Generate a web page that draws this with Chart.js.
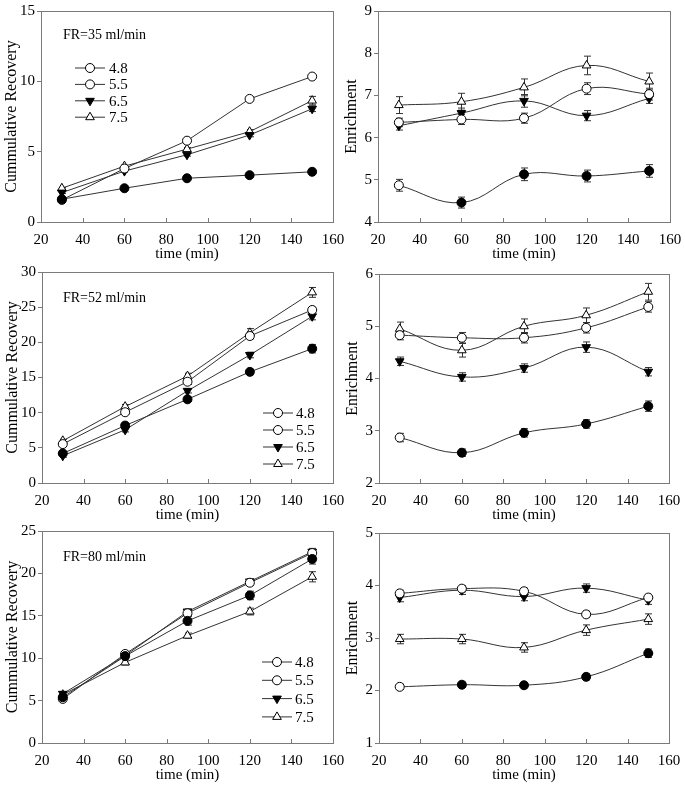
<!DOCTYPE html>
<html><head><meta charset="utf-8">
<script src="https://cdn.jsdelivr.net/npm/chart.js@4.4.1/dist/chart.umd.min.js"></script>
<style>
html,body{margin:0;padding:0;background:#fff;}
body{width:685px;height:795px;position:relative;overflow:hidden;}
canvas{position:absolute;}
</style></head><body>
<canvas id="c0"></canvas><canvas id="c1"></canvas><canvas id="c2"></canvas>
<canvas id="c3"></canvas><canvas id="c4"></canvas><canvas id="c5"></canvas>
<script>
// ---------------- data ----------------
const times = [30, 60, 90, 120, 150];
const xTicks = [20, 40, 60, 80, 100, 120, 140, 160];
const seriesLabels = ['4.8', '5.5', '6.5', '7.5'];
const flowLabels = ['FR=35 ml/min', 'FR=52 ml/min', 'FR=80 ml/min'];
const recoveryTitle = 'Cummulative Recovery';
const enrichmentTitle = 'Enrichment';
const timeTitle = 'time (min)';

// FR = 35 ml/min, cumulative recovery
const rec35_48 = [1.62, 2.40, 3.11, 3.33, 3.57];
const rec35_55 = [1.57, 3.80, 5.78, 8.75, 10.34];
const rec35_65 = [2.09, 3.62, 4.78, 6.18, 8.05];
const rec35_75 = [2.40, 3.97, 5.18, 6.42, 8.63];
const rec35_err48 = [0.05, 0.06, 0.08, 0.08, 0.1];
const rec35_err55 = [0.05, 0.08, 0.1, 0.1, 0.12];
const rec35_err65 = [0.06, 0.08, 0.1, 0.12, 0.2];
const rec35_err75 = [0.06, 0.08, 0.12, 0.15, 0.3];
// FR = 35 ml/min, enrichment
const enr35_48 = [4.87, 4.46, 5.13, 5.09, 5.21];
const enr35_55 = [6.36, 6.43, 6.46, 7.16, 7.03];
const enr35_65 = [6.28, 6.58, 6.87, 6.52, 6.93];
const enr35_75 = [6.77, 6.85, 7.19, 7.71, 7.33];
const enr35_err48 = [0.14, 0.13, 0.15, 0.14, 0.15];
const enr35_err55 = [0.1, 0.12, 0.12, 0.14, 0.14];
const enr35_err65 = [0.1, 0.12, 0.15, 0.12, 0.12];
const enr35_err75 = [0.2, 0.2, 0.2, 0.22, 0.2];

// FR = 52 ml/min, cumulative recovery
const rec52_48 = [4.20, 8.17, 11.9, 15.8, 19.1];
const rec52_55 = [5.53, 10.06, 14.4, 20.9, 24.6];
const rec52_65 = [3.87, 7.56, 13.1, 18.2, 23.7];
const rec52_75 = [6.00, 10.86, 15.2, 21.35, 27.1];
const rec52_err48 = [0.2, 0.3, 0.3, 0.4, 0.6];
const rec52_err55 = [0.2, 0.3, 0.4, 0.4, 0.4];
const rec52_err65 = [0.2, 0.3, 0.3, 0.4, 0.5];
const rec52_err75 = [0.2, 0.3, 0.4, 0.6, 0.7];
// FR = 52 ml/min, enrichment
const enr52_48 = [2.87, 2.58, 2.96, 3.13, 3.47];
const enr52_55 = [4.83, 4.78, 4.78, 4.97, 5.37];
const enr52_65 = [4.33, 4.03, 4.20, 4.60, 4.13];
const enr52_75 = [4.95, 4.54, 5.00, 5.21, 5.66];
const enr52_err48 = [0.08, 0.07, 0.08, 0.08, 0.1];
const enr52_err55 = [0.09, 0.1, 0.1, 0.1, 0.1];
const enr52_err65 = [0.08, 0.08, 0.08, 0.1, 0.08];
const enr52_err75 = [0.13, 0.13, 0.14, 0.14, 0.16];

// FR = 80 ml/min, cumulative recovery
const rec80_48 = [5.40, 10.25, 14.4, 17.4, 21.7];
const rec80_55 = [5.20, 10.5, 15.3, 18.9, 22.4];
const rec80_65 = [5.80, 10.3, 15.5, 19.05, 22.55];
const rec80_75 = [5.70, 9.50, 12.66, 15.5, 19.6];
const rec80_err48 = [0.2, 0.3, 0.5, 0.5, 0.6];
const rec80_err55 = [0.2, 0.3, 0.3, 0.3, 0.4];
const rec80_err65 = [0.2, 0.3, 0.3, 0.3, 0.4];
const rec80_err75 = [0.2, 0.3, 0.3, 0.4, 0.6];
// FR = 80 ml/min, enrichment
const enr80_48 = [2.07, 2.11, 2.10, 2.26, 2.71];
const enr80_55 = [3.85, 3.94, 3.89, 3.45, 3.77];
const enr80_65 = [3.77, 3.91, 3.79, 3.95, 3.72];
const enr80_75 = [2.98, 2.98, 2.82, 3.15, 3.36];
const enr80_err48 = [0.05, 0.05, 0.05, 0.06, 0.08];
const enr80_err55 = [0.06, 0.06, 0.06, 0.06, 0.06];
const enr80_err65 = [0.08, 0.08, 0.08, 0.08, 0.08];
const enr80_err75 = [0.09, 0.09, 0.09, 0.1, 0.1];

// y axis ranges (min, max, step)
const recRange35 = [0, 15, 5], enrRange35 = [4, 9, 1];
const recRange52 = [0, 30, 5], enrRange52 = [2, 6, 1];
const recRange80 = [0, 25, 5], enrRange80 = [1, 5, 1];

// ---------------- style / layout ----------------
const SERIF = "'Liberation Serif','Times New Roman',serif";
const markerStyles = [
  {pointStyle: 'circle', rotation: 0, radius: 4.5, fill: '#000'},
  {pointStyle: 'circle', rotation: 0, radius: 4.5, fill: '#fff'},
  {pointStyle: 'triangle', rotation: 180, radius: 5, fill: '#000'},
  {pointStyle: 'triangle', rotation: 0, radius: 5, fill: '#fff'}
];
const legendFill = ['#fff', '#fff', '#000', '#fff'];
const YW = 45, PT = 12, PR = 16, XH = 44;
const plotRects = [
  {l: 41, t: 11, w: 292, h: 211},
  {l: 378, t: 11, w: 292, h: 211},
  {l: 42, t: 272, w: 291, h: 211},
  {l: 379, t: 274, w: 290, h: 209},
  {l: 42, t: 531, w: 291, h: 212},
  {l: 379, t: 533, w: 290, h: 210}
];
const yTitlePad = [6, 9, 6, 9, 6, 9];
const legendBoxes = [
  {top: 57, gap: 16.4, x0: 34, x1: 64, tx: 68},
  null,
  {top: 141, gap: 17, x0: 221, x1: 251, tx: 254},
  null,
  {top: 131, gap: 18.3, x0: 220, x1: 250, tx: 253},
  null
];
const flowLabelPos = [{x: 22, y: 24}, null, {x: 21, y: 26}, null, {x: 21, y: 26}, null];

const panels = [
  {kind: 'rec', values: [rec35_48, rec35_55, rec35_65, rec35_75], errors: [rec35_err48, rec35_err55, rec35_err65, rec35_err75], range: recRange35, flow: flowLabels[0]},
  {kind: 'enr', values: [enr35_48, enr35_55, enr35_65, enr35_75], errors: [enr35_err48, enr35_err55, enr35_err65, enr35_err75], range: enrRange35},
  {kind: 'rec', values: [rec52_48, rec52_55, rec52_65, rec52_75], errors: [rec52_err48, rec52_err55, rec52_err65, rec52_err75], range: recRange52, flow: flowLabels[1]},
  {kind: 'enr', values: [enr52_48, enr52_55, enr52_65, enr52_75], errors: [enr52_err48, enr52_err55, enr52_err65, enr52_err75], range: enrRange52},
  {kind: 'rec', values: [rec80_48, rec80_55, rec80_65, rec80_75], errors: [rec80_err48, rec80_err55, rec80_err65, rec80_err75], range: recRange80, flow: flowLabels[2]},
  {kind: 'enr', values: [enr80_48, enr80_55, enr80_65, enr80_75], errors: [enr80_err48, enr80_err55, enr80_err65, enr80_err75], range: enrRange80}
];

// ---------------- plugin ----------------
const decor = {
  id: 'decor',
  beforeDatasetsDraw(chart) {
    const ctx = chart.ctx, a = chart.chartArea, ys = chart.scales.y, xs = chart.scales.x;
    ctx.save();
    ctx.strokeStyle = '#7a7a7a'; ctx.lineWidth = 1;
    ctx.strokeRect(a.left + 0.5, a.top + 0.5, a.right - a.left, a.bottom - a.top);
    xTicks.forEach(v => {
      const px = Math.round(xs.getPixelForValue(v)) + 0.5;
      ctx.beginPath(); ctx.moveTo(px, a.bottom); ctx.lineTo(px, a.bottom - 4); ctx.stroke();
    });
    // error bars
    ctx.strokeStyle = '#333'; ctx.lineWidth = 1;
    chart.data.datasets.forEach((ds, di) => {
      const meta = chart.getDatasetMeta(di);
      (ds.errorBars || []).forEach((e, i) => {
        const pt = meta.data[i]; if (!pt) return;
        const v = ds.data[i].y;
        const yTop = ys.getPixelForValue(v + e), yBot = ys.getPixelForValue(v - e);
        const x = Math.round(pt.x) + 0.5;
        ctx.beginPath();
        ctx.moveTo(x, yTop); ctx.lineTo(x, yBot);
        ctx.moveTo(x - 3.5, yTop); ctx.lineTo(x + 3.5, yTop);
        ctx.moveTo(x - 3.5, yBot); ctx.lineTo(x + 3.5, yBot);
        ctx.stroke();
      });
    });
    ctx.restore();
  },
  afterDraw(chart, args, opts) {
    const ctx = chart.ctx, a = chart.chartArea;
    ctx.save();
    if (opts.flow && opts.flowPos) {
      ctx.fillStyle = '#000'; ctx.font = '14px ' + SERIF;
      ctx.textBaseline = 'middle'; ctx.textAlign = 'left';
      ctx.fillText(opts.flow, a.left + opts.flowPos.x, a.top + opts.flowPos.y);
    }
    const lg = opts.legend;
    if (lg) {
      chart.data.datasets.forEach((ds, i) => {
        const y = a.top + lg.top + i * lg.gap;
        ctx.strokeStyle = '#333'; ctx.lineWidth = 1;
        ctx.beginPath(); ctx.moveTo(a.left + lg.x0, y); ctx.lineTo(a.left + lg.x1, y); ctx.stroke();
        const m = markerStyles[i];
        ctx.fillStyle = legendFill[i]; ctx.strokeStyle = '#000';
        Chart.helpers.drawPoint(ctx, {pointStyle: m.pointStyle, rotation: m.rotation, radius: m.radius, borderWidth: 1}, a.left + (lg.x0 + lg.x1) / 2, y);
        ctx.fillStyle = '#000'; ctx.font = '15px ' + SERIF;
        ctx.textBaseline = 'middle'; ctx.textAlign = 'left';
        ctx.fillText(ds.label, a.left + lg.tx, y + 1);
      });
    }
    ctx.restore();
  }
};

// ---------------- build charts ----------------
panels.forEach((p, idx) => {
  const r = plotRects[idx];
  const cv = document.getElementById('c' + idx);
  const W = r.w + YW + PR, H = r.h + PT + XH;
  cv.width = W; cv.height = H;
  cv.style.width = W + 'px'; cv.style.height = H + 'px';
  cv.style.left = (r.l - YW) + 'px'; cv.style.top = (r.t - PT) + 'px';
  const smooth = p.kind === 'enr';
  const datasets = seriesLabels.map((lab, si) => {
    const m = markerStyles[si];
    let fills = times.map(() => m.fill);
    if (smooth && si === 0) fills[0] = '#fff';
    return {
      label: lab,
      data: times.map((t, k) => ({x: t, y: p.values[si][k]})),
      errorBars: p.errors[si],
      borderColor: '#333', borderWidth: 1,
      tension: smooth ? 0.4 : 0,
      pointStyle: m.pointStyle, pointRotation: m.rotation, pointRadius: m.radius,
      pointBackgroundColor: fills, pointBorderColor: '#000', pointBorderWidth: 1
    };
  });
  new Chart(cv, {
    type: 'line',
    data: {datasets},
    options: {
      responsive: false, animation: false, devicePixelRatio: 1,
      layout: {padding: {top: PT, right: PR, left: 0, bottom: 0}},
      plugins: {
        legend: {display: false}, tooltip: {enabled: false},
        decor: {legend: legendBoxes[idx], flow: p.flow, flowPos: flowLabelPos[idx]}
      },
      scales: {
        x: {
          type: 'linear', min: 20, max: 160,
          afterBuildTicks: s => { s.ticks = xTicks.map(v => ({value: v})); },
          afterFit: s => { s.height = XH; },
          grid: {display: false}, border: {display: false},
          ticks: {color: '#000', font: {family: SERIF, size: 15}, padding: 1, maxRotation: 0},
          title: {display: true, text: timeTitle, color: '#000', font: {family: SERIF, size: 15}, padding: {top: 0, bottom: 3}}
        },
        y: {
          min: p.range[0], max: p.range[1],
          ticks: {stepSize: p.range[2], color: '#000', font: {family: SERIF, size: 15}, padding: 2},
          afterFit: s => { s.width = YW; },
          grid: {drawOnChartArea: false, drawTicks: true, tickLength: 4, color: '#7a7a7a'},
          border: {display: false},
          title: {display: true, text: p.kind === 'rec' ? recoveryTitle : enrichmentTitle, color: '#000', font: {family: SERIF, size: 16}, padding: {top: yTitlePad[idx], bottom: 0}}
        }
      }
    },
    plugins: [decor]
  });
});
</script>
</body></html>
